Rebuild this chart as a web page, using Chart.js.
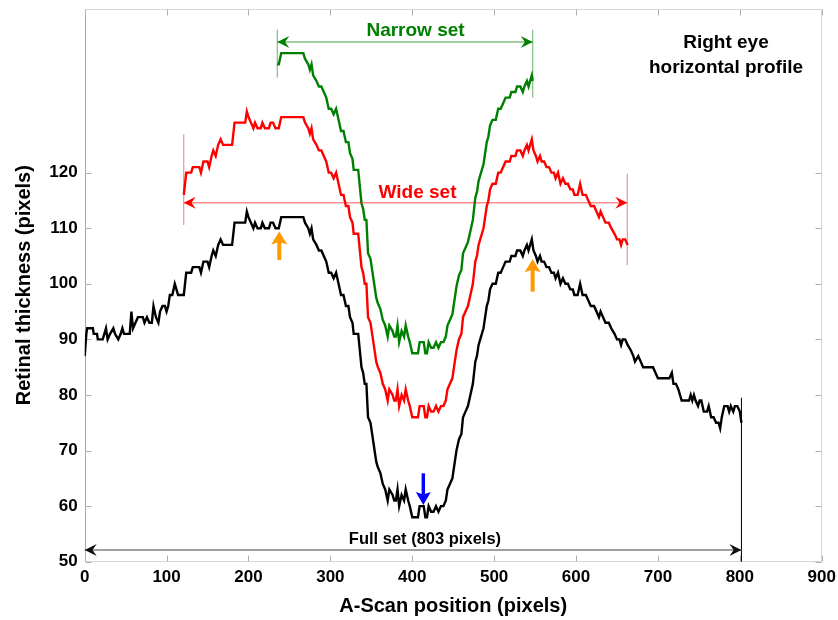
<!DOCTYPE html>
<html>
<head>
<meta charset="utf-8">
<script src="https://cdn.jsdelivr.net/npm/chart.js@4.4.1/dist/chart.umd.min.js"></script>
<style>
  html, body { margin: 0; padding: 0; background: #fff; }
</style>
</head>
<body>
<canvas id="chart" width="838" height="620"></canvas>
<script>
// A-scan position vs retinal thickness (vertices of the traced line)
const fullSet = [
  [0,87],[2,91],[3,92],[10,92],[11,91],[15,91],[16,90],[22,90],[24,91],[26,92],[28,90],[31,91],
  [35,92],[37,91],[41,90],[44,91],[46,92],[48,91],[55,91],[57,95],[59,92],[62,93],[65,94],[71,94],
  [73,93],[76,94],[79,93],[82,93],[84,96],[87,94],[90,93],[92,95],[95,96],[98,96],[100,95],[102,96],
  [104,98],[107,98],[110,100],[112,99],[114,98],[121,98],[124,102],[130,102],[132,103],[140,103],
  [142,102],[145,104],[150,104],[152,103],[155,105],[157,106],[160,105],[163,107],[166,108],[169,107],
  [180,107],[183,111],[196,111],[198,113],[200,112],[203,111],[206,110],[208,111],[211,110],[215,110],
  [217,111],[220,110],[225,110],[227,111],[230,111],[233,110],[237,110],[240,112],[267,112],[269,111],
  [273,110],[275,109],[277,110],[279,108],[283,107],[286,106],[289,106],[292,105],[295,104],[298,102],
  [301,102],[304,101],[307,102],[310,100],[313,98],[316,98],[319,96],[322,96],[324,94],[327,93],
  [328.5,91],[334,91],[336,88],[338,85],[340,84],[342,82],[344,82],[346,76],[349,75],[351,73],[353,71],
  [356,68],[358,67],[361,66],[364,64],[367,63],[370,61],[372,63],[376,62],[378,61],[380,61],[382,63],
  [384,60],[387,62],[390,61],[392,63],[395,61],[397,60],[400,58],[407,58],[409,60],[414,60],[416,58],
  [418,58],[420,60],[423,59],[426,59],[429,60],[432,59],[435,60],[438,60],[441,61],[443,63],[446,64],
  [449,65],[451,67],[454,70],[457,72],[460,73],[462,76],[465,77],[468,78],[471,80],[474,82],[477,86],
  [479,87],[481,89],[483,90],[485,91],[487,92],[489,94],[491,96],[493,97],[495,99],[498,100],[502,100],
  [505,102],[508,102],[511,103],[514,104],[519,104],[521,105],[526,105],[528,106],[532,106],[535,105],
  [537,106],[540,107],[542,106],[544,107],[546,108],[548,106],[551,105],[553,104],[556,105],[558,104],
  [561,104],[564,103],[567,103],[570,102],[573,102],[575,101],[578,102],[581,100],[584,101],[587,100],
  [590,100],[593,99],[596,99],[598,98],[602,98],[605,100],[608,98],[612,98],[615,97],[618,96],[622,96],
  [625,95],[628,94],[630,95],[633,94],[636,93],[640,93],[643,92],[647,91],[650,90],[653,90],[655,89],
  [657,90],[660,90],[663,89],[667,88],[670,87],[672,86],[676,87],[679,86],[682,85],[694,85],[697,84],
  [700,83],[714,83],[717,84],[719,82],[722,82],[725,81],[729,79],[738,79],[740,80],[742,79],[744,80],
  [746,79],[749,78],[751,79],[753,79],[756,77],[760,77],[762,78],[765,76],[768,76],[771,75],[774,75],
  [776,74],[778,76],[781,78],[785,78],[787,77],[789,78],[792,77],[794,78],[797,78],[800,77],[802,75]
];

// wide subset, drawn shifted up in the figure
const wideSet = [
  [121,116],[124,120],[130,120],[132,121],[140,121],[142,120],[145,122],[150,122],[152,121],[155,123],
  [157,124],[160,123],[163,125],[166,126],[169,125],[180,125],[183,129],[196,129],[198,131],[200,130],
  [203,129],[206,128],[208,129],[211,128],[215,128],[217,129],[220,128],[225,128],[227,129],[230,129],
  [233,128],[237,128],[240,130],[267,130],[269,129],[273,128],[275,127],[277,128],[279,126],[283,125],
  [286,124],[289,124],[292,123],[295,122],[298,120],[301,120],[304,119],[307,120],[310,118],[313,116],
  [316,116],[319,114],[322,114],[324,112],[327,111],[328.5,109],[334,109],[336,106],[338,103],[340,102],
  [342,100],[344,100],[346,94],[349,93],[351,91],[353,89],[356,86],[358,85],[361,84],[364,82],[367,81],
  [370,79],[372,81],[376,80],[378,79],[380,79],[382,81],[384,78],[387,80],[390,79],[392,81],[395,79],
  [397,78],[400,76],[407,76],[409,78],[414,78],[416,76],[418,76],[420,78],[423,77],[426,77],[429,78],
  [432,77],[435,78],[438,78],[441,79],[443,81],[446,82],[449,83],[451,85],[454,88],[457,90],[460,91],
  [462,94],[465,95],[468,96],[471,98],[474,100],[477,104],[479,105],[481,107],[483,108],[485,109],
  [487,110],[489,112],[491,114],[493,115],[495,117],[498,118],[502,118],[505,120],[508,120],[511,121],
  [514,122],[519,122],[521,123],[526,123],[528,124],[532,124],[535,123],[537,124],[540,125],[542,124],
  [544,125],[546,126],[548,124],[551,123],[553,122],[556,123],[558,122],[561,122],[564,121],[567,121],
  [570,120],[573,120],[575,119],[578,120],[581,118],[584,119],[587,118],[590,118],[593,117],[596,117],
  [598,116],[602,116],[605,118],[608,116],[612,116],[615,115],[618,114],[622,114],[625,113],[628,112],
  [630,113],[633,112],[636,111],[640,111],[643,110],[647,109],[650,108],[653,108],[655,107],[657,108],
  [660,108],[663,107]
];

// narrow subset, drawn shifted further up
const narrowSet = [
  [235,139.5],[237,139.5],[240,141.5],[267,141.5],[269,140.5],[273,139.5],[275,138.5],[277,139.5],
  [279,137.5],[283,136.5],[286,135.5],[289,135.5],[292,134.5],[295,133.5],[298,131.5],[301,131.5],
  [304,130.5],[307,131.5],[310,129.5],[313,127.5],[316,127.5],[319,125.5],[322,125.5],[324,123.5],
  [327,122.5],[328.5,120.5],[334,120.5],[336,117.5],[338,114.5],[340,113.5],[342,111.5],[344,111.5],
  [346,105.5],[349,104.5],[351,102.5],[353,100.5],[356,97.5],[358,96.5],[361,95.5],[364,93.5],
  [367,92.5],[370,90.5],[372,92.5],[376,91.5],[378,90.5],[380,90.5],[382,92.5],[384,89.5],[387,91.5],
  [390,90.5],[392,92.5],[395,90.5],[397,89.5],[400,87.5],[407,87.5],[409,89.5],[414,89.5],[416,87.5],
  [418,87.5],[420,89.5],[423,88.5],[426,88.5],[429,89.5],[432,88.5],[435,89.5],[438,89.5],[441,90.5],
  [443,92.5],[446,93.5],[449,94.5],[451,96.5],[454,99.5],[457,101.5],[460,102.5],[462,105.5],
  [465,106.5],[468,107.5],[471,109.5],[474,111.5],[477,115.5],[479,116.5],[481,118.5],[483,119.5],
  [485,120.5],[487,121.5],[489,123.5],[491,125.5],[493,126.5],[495,128.5],[498,129.5],[502,129.5],
  [505,131.5],[508,131.5],[511,132.5],[514,133.5],[519,133.5],[521,134.5],[526,134.5],[528,135.5],
  [532,135.5],[535,134.5],[537,135.5],[540,136.5],[542,135.5],[544,136.5],[546,137.5],[547,136.5]
];

const xTicks = [0, 100, 200, 300, 400, 500, 600, 700, 800, 900];
const yTicks = [50, 60, 70, 80, 90, 100, 110, 120];

const FONT = "'Liberation Sans', Arial, sans-serif";
Chart.defaults.font.family = FONT;

const toXY = arr => arr.map(p => ({ x: p[0], y: p[1] }));

// filled arrow head with a notch, tip at (x, y), pointing along angle
function notchedHead(ctx, x, y, angle, len, halfW, color) {
    ctx.save();
    ctx.translate(x, y);
    ctx.rotate(angle);
    ctx.fillStyle = color;
    ctx.beginPath();
    ctx.moveTo(0, 0);
    ctx.lineTo(-len, -halfW);
    ctx.lineTo(-len * 0.65, 0);
    ctx.lineTo(-len, halfW);
    ctx.closePath();
    ctx.fill();
    ctx.restore();
}

function blockArrow(ctx, x0, y0, x1, y1, color, shaft, headLen, halfW) {
    const ang = Math.atan2(y1 - y0, x1 - x0);
    const len = Math.hypot(x1 - x0, y1 - y0);
    ctx.save();
    ctx.translate(x1, y1);
    ctx.rotate(ang);
    ctx.fillStyle = color;
    ctx.fillRect(-len, -shaft / 2, len - headLen * 0.7, shaft);
    ctx.beginPath();
    ctx.moveTo(0, 0);
    ctx.lineTo(-headLen, -halfW);
    ctx.lineTo(-headLen * 0.8, 0);
    ctx.lineTo(-headLen, halfW);
    ctx.closePath();
    ctx.fill();
    ctx.restore();
}

function segment(ctx, xa, ya, xb, yb, color, width) {
    ctx.save();
    ctx.strokeStyle = color;
    ctx.lineWidth = width;
    ctx.beginPath();
    ctx.moveTo(xa, ya);
    ctx.lineTo(xb, yb);
    ctx.stroke();
    ctx.restore();
}

// box, inward ticks (MATLAB look)
const framePlugin = {
    id: 'framePlugin',
    beforeDatasetsDraw(chart) {
        const { ctx, chartArea: a, scales } = chart;
        const L = Math.round(a.left) + 0.5, R = Math.round(a.right) - 0.5;
        const T = Math.round(a.top) + 0.5, B = Math.round(a.bottom) - 0.5;
        ctx.save();
        ctx.lineWidth = 1;
        ctx.strokeStyle = '#d6d6d6';
        ctx.beginPath();
        ctx.moveTo(L, T); ctx.lineTo(R, T); ctx.lineTo(R, B); ctx.lineTo(L, B);
        ctx.stroke();
        ctx.strokeStyle = '#a8a8a8';
        ctx.beginPath();
        ctx.moveTo(L, T); ctx.lineTo(L, B);
        ctx.stroke();

        ctx.strokeStyle = '#b0b0b0';
        const tl = 6;
        ctx.beginPath();
        xTicks.forEach(v => {
            const px = Math.round(scales.x.getPixelForValue(v)) + 0.5;
            ctx.moveTo(px, B); ctx.lineTo(px, B - tl);
            ctx.moveTo(px, T); ctx.lineTo(px, T + tl);
        });
        yTicks.forEach(v => {
            const py = Math.round(scales.y.getPixelForValue(v)) + 0.5;
            ctx.moveTo(L, py); ctx.lineTo(L + tl, py);
            ctx.moveTo(R, py); ctx.lineTo(R - tl, py);
        });
        ctx.stroke();
        ctx.restore();
    },
    afterDatasetsDraw(chart) {
        const { ctx, scales } = chart;
        const X = v => scales.x.getPixelForValue(v);
        const Y = v => scales.y.getPixelForValue(v);
        ctx.save();

        // narrow set bracket
        const nGreen = 'rgb(0,128,0)', nLight = 'rgba(0,128,0,0.5)';
        segment(ctx, X(235.2), Y(145.7), X(235.2), Y(137.1), nLight, 1.2);
        segment(ctx, X(547.1), Y(145.7), X(547.1), Y(133.5), nLight, 1.2);
        segment(ctx, X(235.2), Y(143.5), X(547.1), Y(143.5), nLight, 1.5);
        notchedHead(ctx, X(235.2), Y(143.5), Math.PI, 12, 6, nGreen);
        notchedHead(ctx, X(547.1), Y(143.5), 0, 12, 6, nGreen);

        // wide set bracket
        const wRed = 'rgb(255,0,0)', wLight = 'rgba(255,0,0,0.45)';
        segment(ctx, X(120.9), Y(126.9), X(120.9), Y(110.6), wLight, 1.2);
        segment(ctx, X(662.6), Y(119.8), X(662.6), Y(103.4), wLight, 1.2);
        segment(ctx, X(120.9), Y(114.6), X(662.6), Y(114.6), wLight, 1.5);
        notchedHead(ctx, X(120.9), Y(114.6), Math.PI, 12, 6, wRed);
        notchedHead(ctx, X(662.6), Y(114.6), 0, 12, 6, wRed);

        // full set bracket
        segment(ctx, X(802), Y(79.5), X(802), Y(50), '#000', 1);
        segment(ctx, X(0), Y(52.1), X(802), Y(52.1), '#808080', 1.5);
        notchedHead(ctx, X(0), Y(52.1), Math.PI, 12, 6, '#111');
        notchedHead(ctx, X(802), Y(52.1), 0, 12, 6, '#111');

        // markers: foveal pit and peaks
        const orange = 'rgb(255,153,0)';
        blockArrow(ctx, X(237.6), Y(104.3), X(237.6), Y(109.4), orange, 4, 13, 8);
        blockArrow(ctx, X(547.0), Y(98.6), X(547.0), Y(104.4), orange, 4, 13, 8);
        blockArrow(ctx, X(413.5), Y(65.9), X(413.5), Y(60.2), 'rgb(0,0,255)', 3.4, 13, 7.5);

        // labels
        ctx.textAlign = 'center';
        ctx.textBaseline = 'alphabetic';
        ctx.font = 'bold 19px ' + FONT;
        ctx.fillStyle = nGreen;
        ctx.fillText('Narrow set', X(404), Y(144.6));
        ctx.fillStyle = wRed;
        ctx.fillText('Wide set', X(406.4), Y(115.4));
        ctx.fillStyle = '#000';
        ctx.fillText('Right eye', X(783.1), Y(142.4));
        ctx.fillText('horizontal profile', X(783.1), Y(137.9));
        ctx.font = 'bold 16.5px ' + FONT;
        ctx.fillText('Full set (803 pixels)', X(415.5), Y(53.1));
        ctx.restore();
    }
};

const tickFont = { family: FONT, size: 17, weight: 'bold' };
const titleFont = { family: FONT, size: 20, weight: 'bold' };

const ctx = document.getElementById('chart').getContext('2d');
new Chart(ctx, {
    type: 'scatter',
    data: {
        datasets: [
            { label: 'Full set', data: toXY(fullSet), showLine: true, borderColor: '#000', borderWidth: 2.4, pointRadius: 0, tension: 0 },
            { label: 'Wide set', data: toXY(wideSet), showLine: true, borderColor: 'rgb(255,0,0)', borderWidth: 2.4, pointRadius: 0, tension: 0 },
            { label: 'Narrow set', data: toXY(narrowSet), showLine: true, borderColor: 'rgb(0,128,0)', borderWidth: 2.4, pointRadius: 0, tension: 0 }
        ]
    },
    options: {
        responsive: false,
        devicePixelRatio: 1,
        animation: false,
        layout: { padding: { top: 8.7, right: 16.3, bottom: 0, left: 0 } },
        plugins: { legend: { display: false }, tooltip: { enabled: false } },
        scales: {
            x: {
                type: 'linear',
                min: 0,
                max: 900,
                afterBuildTicks: s => { s.ticks = xTicks.map(v => ({ value: v })); },
                afterFit: s => { s.height = 58.3; s.paddingLeft = 0; s.paddingRight = 0; },
                grid: { display: false, drawTicks: false },
                border: { display: false },
                ticks: { font: tickFont, color: '#000', padding: 5, maxRotation: 0, autoSkip: false },
                title: { display: true, text: 'A-Scan position (pixels)', font: titleFont, color: '#000', padding: { top: 0, bottom: 1.3 } }
            },
            y: {
                type: 'linear',
                min: 50,
                max: 149.5,
                afterBuildTicks: s => { s.ticks = yTicks.map(v => ({ value: v })); },
                afterFit: s => { s.width = 84.7; s.paddingTop = 0; s.paddingBottom = 0; },
                grid: { display: false, drawTicks: false },
                border: { display: false },
                ticks: { font: tickFont, color: '#000', padding: 7, autoSkip: false },
                title: { display: true, text: 'Retinal thickness (pixels)', font: titleFont, color: '#000', padding: { top: 12.5, bottom: 0 } }
            }
        }
    },
    plugins: [framePlugin]
});
</script>
</body>
</html>
